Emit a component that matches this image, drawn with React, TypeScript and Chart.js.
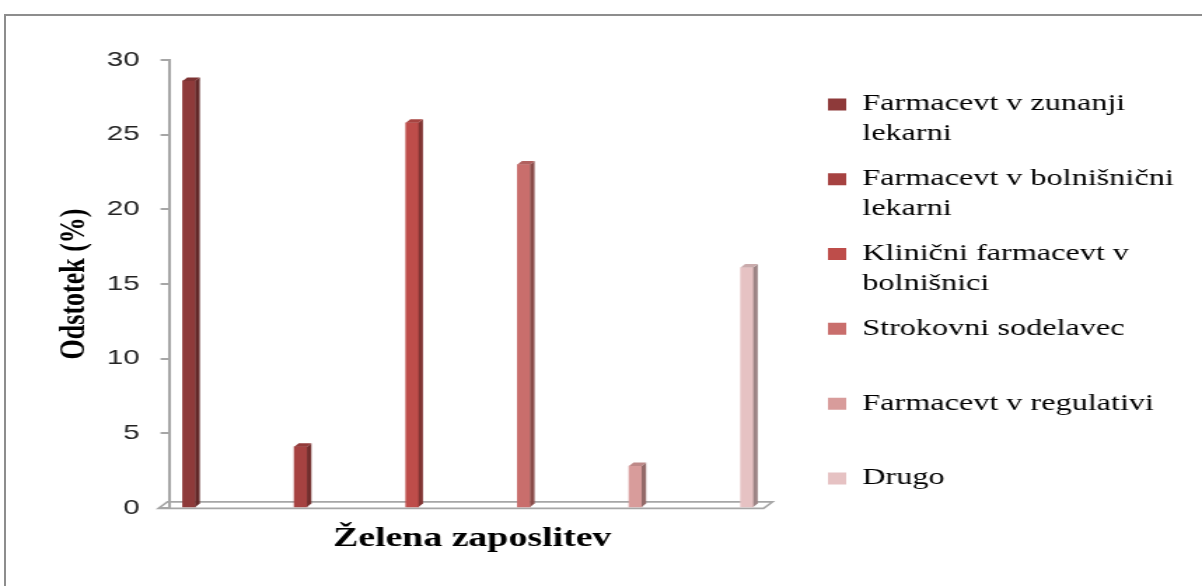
import React, { useEffect, useRef } from 'react';
import { Chart, registerables } from 'chart.js';

Chart.register(...registerables);

// ---- data ----
const seriesNames = [
  'Farmacevt v zunanji lekarni',
  'Farmacevt v bolnišnični lekarni',
  'Klinični farmacevt v bolnišnici',
  'Strokovni sodelavec',
  'Farmacevt v regulativi',
  'Drugo',
];
const legendLines = [
  ['Farmacevt v zunanji', 'lekarni'],
  ['Farmacevt v bolnišnični', 'lekarni'],
  ['Klinični farmacevt v', 'bolnišnici'],
  ['Strokovni sodelavec', ''],
  ['Farmacevt v regulativi', ''],
  ['Drugo', ''],
];
const values = [28.6, 4.1, 25.8, 23.0, 2.8, 16.1];
const yTicks = [0, 5, 10, 15, 20, 25, 30];
const xTitle = 'Želena zaposlitev';
const yTitle = 'Odstotek (%)';

// ---- styles ----
const seriesColors = ['#8E3A3A', '#A64241', '#BE4D4A', '#C96E6C', '#D89C9B', '#E6C2C3'];
const INNER_W = 858;
const STRETCH = 1202 / INNER_W;

function shade(hex: string, f: number): string {
  const n = parseInt(hex.slice(1), 16);
  const r = Math.round(((n >> 16) & 255) * f);
  const g = Math.round(((n >> 8) & 255) * f);
  const b = Math.round((n & 255) * f);
  return `rgb(${Math.min(255, r)},${Math.min(255, g)},${Math.min(255, b)})`;
}

const threeD = {
  id: 'threeD',
  beforeDatasetsDraw(chart: any) {
    const { ctx, chartArea } = chart;
    const { left, right, bottom } = chartArea;
    ctx.save();
    ctx.strokeStyle = '#a6a6a6';
    ctx.lineWidth = 1.6;
    ctx.beginPath();
    ctx.moveTo(left - 8, bottom + 0.5);
    ctx.lineTo(right - 8, bottom + 0.5);
    ctx.lineTo(right - 1.5, bottom - 6);
    ctx.lineTo(left - 1.5, bottom - 6);
    ctx.closePath();
    ctx.stroke();
    ctx.restore();
  },
  afterDatasetsDraw(chart: any) {
    const { ctx } = chart;
    const dx = 3.2;
    const dy = 3.5;
    chart.data.datasets.forEach((ds: any, i: number) => {
      const meta = chart.getDatasetMeta(i);
      meta.data.forEach((bar: any) => {
        const { x, y, base, width } = bar.getProps(['x', 'y', 'base', 'width'], true);
        const l = x - width / 2;
        const r = x + width / 2;
        ctx.save();
        ctx.fillStyle = shade(seriesColors[i], 0.68);
        ctx.beginPath();
        ctx.moveTo(r, y);
        ctx.lineTo(r + dx, y - dy);
        ctx.lineTo(r + dx, base - dy);
        ctx.lineTo(r, base);
        ctx.closePath();
        ctx.fill();
        ctx.fillStyle = shade(seriesColors[i], 0.88);
        ctx.beginPath();
        ctx.moveTo(l, y);
        ctx.lineTo(l + dx, y - dy);
        ctx.lineTo(r + dx, y - dy);
        ctx.lineTo(r, y);
        ctx.closePath();
        ctx.fill();
        ctx.restore();
      });
    });
  },
};

export default function App() {
  const ref = useRef<HTMLCanvasElement>(null);

  useEffect(() => {
    if (!ref.current) return;
    const chart = new Chart(ref.current, {
      type: 'bar',
      data: {
        datasets: values.map((v, i) => ({
          label: seriesNames[i],
          data: [{ x: i, y: v }],
          backgroundColor: seriesColors[i],
          borderWidth: 0,
          barThickness: 9,
          grouped: false,
          xAxisID: 'x',
          yAxisID: 'y',
        })),
      },
      options: {
        animation: false,
        responsive: true,
        maintainAspectRatio: false,
        layout: { padding: { left: 34, right: 20, top: 60, bottom: 26.3 } },
        plugins: {
          legend: {
            position: 'right',
            align: 'center',
            maxWidth: 262,
            labels: {
              boxWidth: 13,
              boxHeight: 12,
              padding: 15,
              color: '#000',
              font: { family: 'Liberation Serif', size: 23, lineHeight: 1.3 },
              generateLabels: (c: any) => {
                const items = Chart.defaults.plugins.legend.labels.generateLabels(c);
                return items.map((it: any, i: number) => ({ ...it, text: legendLines[i] }));
              },
            },
          },
          tooltip: { enabled: false },
        },
        scales: {
          x: {
            type: 'linear',
            min: -0.1745,
            max: 5.249,
            offset: false,
            ticks: { display: false },
            grid: { display: false, drawTicks: false },
            border: { display: false },
            title: {
              display: true,
              text: xTitle,
              color: '#000',
              font: { family: 'Liberation Serif', size: 27, weight: 'bold', lineHeight: 1.2 },
              padding: { top: 15.4, bottom: 4 },
            },
          },
          y: {
            type: 'linear',
            position: 'left',
            min: yTicks[0],
            max: yTicks[yTicks.length - 1],
            ticks: {
              stepSize: yTicks[1] - yTicks[0],
              color: '#222',
              padding: 15,
              font: { family: 'Liberation Sans', size: 21 },
            },
            grid: {
              display: true,
              drawOnChartArea: false,
              drawTicks: true,
              tickLength: 6.4,
              color: '#a6a6a6',
              lineWidth: 2,
            },
            border: { display: true, color: '#a6a6a6', width: 2 },
            title: {
              display: true,
              text: yTitle,
              color: '#000',
              font: { family: 'Liberation Serif', size: 26, weight: 'bold', lineHeight: 1.2 },
              padding: { top: 4, bottom: 0 },
            },
            afterFit: (s: any) => {
              s.width = 87;
            },
          },
          spacer: {
            type: 'linear',
            position: 'right',
            display: true,
            ticks: { display: false },
            grid: { display: false, drawTicks: false },
            border: { display: false },
            afterFit: (s: any) => {
              s.width = 23;
            },
          },
        },
      } as any,
      plugins: [threeD],
    });
    return () => chart.destroy();
  }, []);

  return (
    <div
      style={{
        position: 'fixed',
        left: 0,
        top: 0,
        width: 1202,
        height: 586,
        overflow: 'hidden',
        background: '#fff',
      }}
    >
      <div
        style={{
          position: 'absolute',
          left: 4,
          top: 14,
          width: 1400,
          height: 800,
          border: '2.5px solid #8d8d8d',
          boxSizing: 'border-box',
        }}
      />
      <div
        style={{
          position: 'absolute',
          left: 0,
          top: 0,
          width: INNER_W,
          height: 586,
          transform: `scaleX(${STRETCH})`,
          transformOrigin: '0 0',
        }}
      >
        <canvas ref={ref} />
      </div>
    </div>
  );
}
